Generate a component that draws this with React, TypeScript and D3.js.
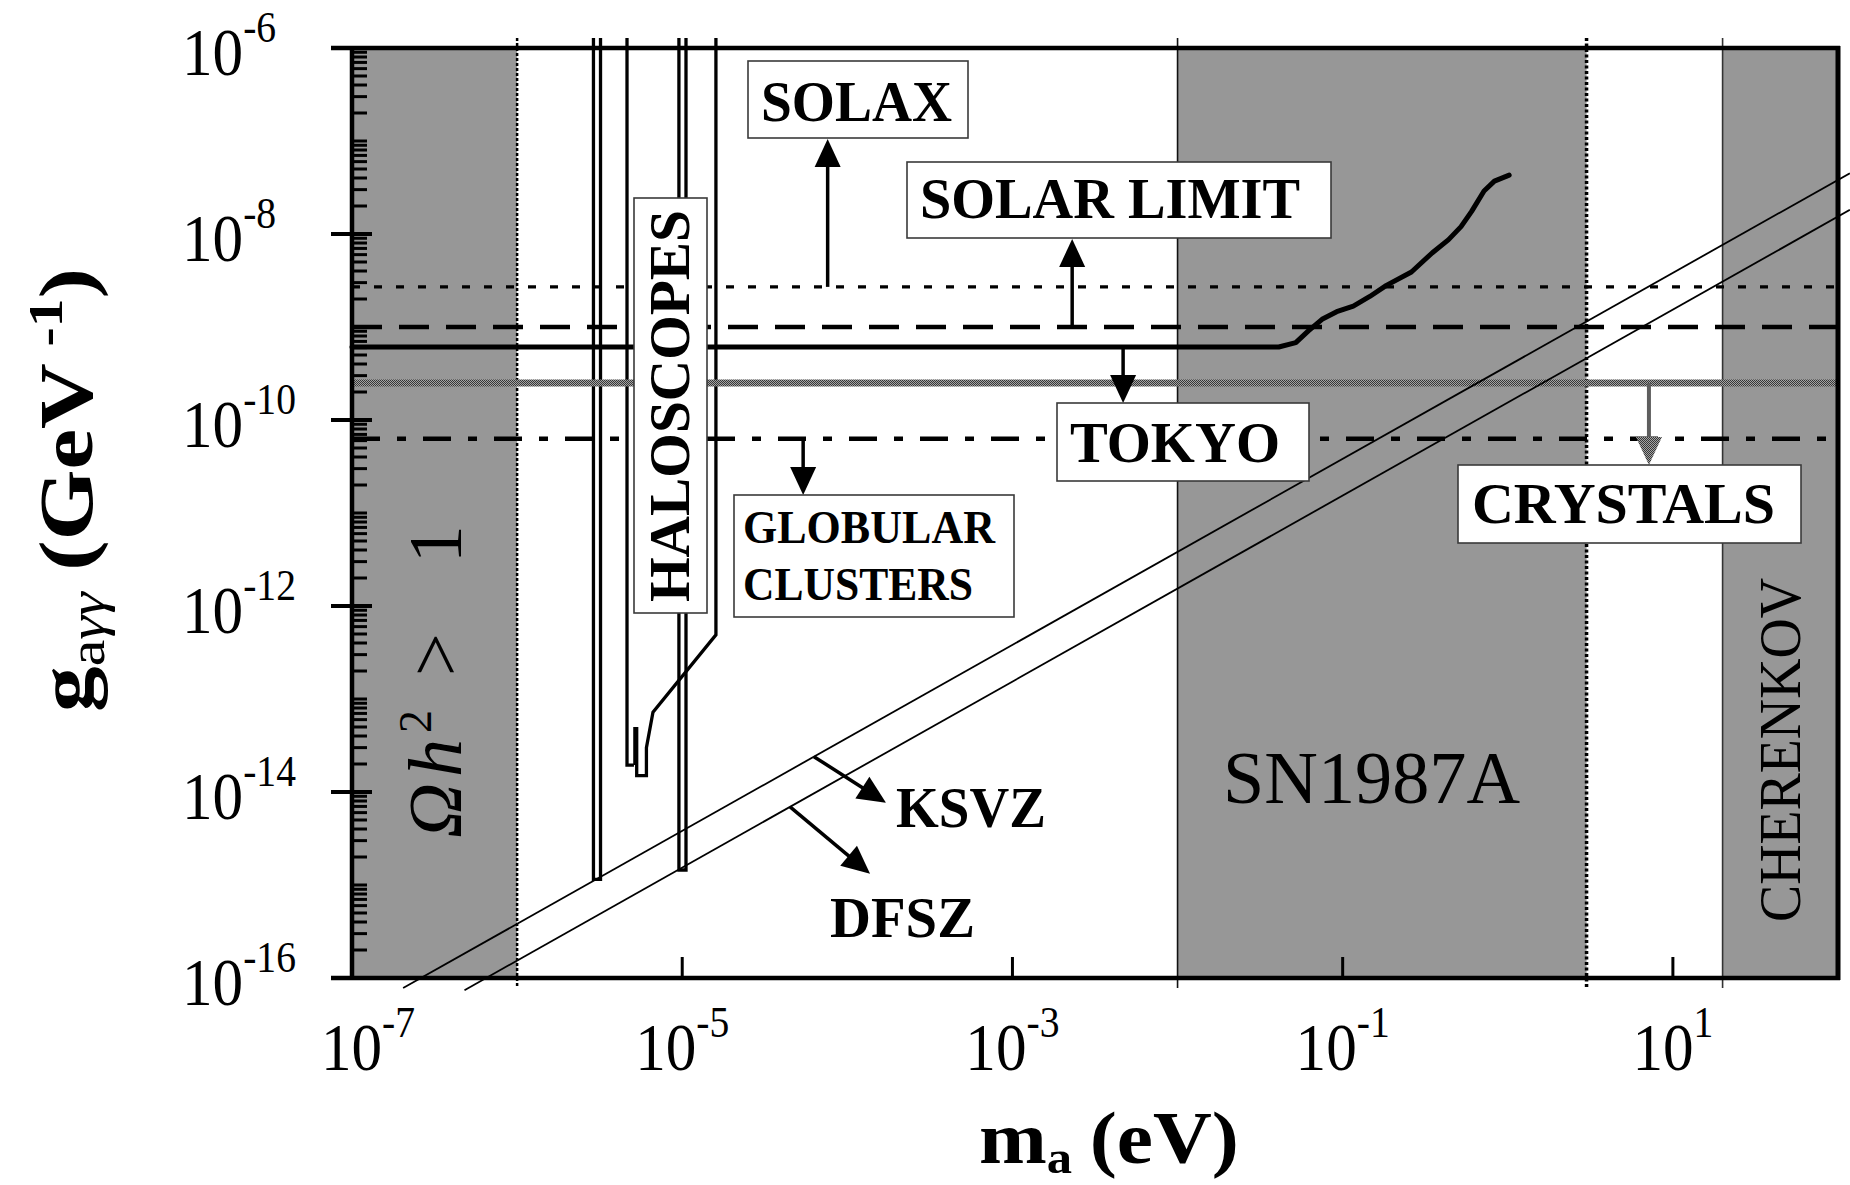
import React from "react";
import * as d3 from "d3";

// ---------------- data ----------------
const massDomain: [number, number] = [1e-7, 1e2];
const couplingDomain: [number, number] = [1e-16, 1e-6];

const xTickValues = [1e-7, 1e-5, 1e-3, 1e-1, 1e1];
const xTickExponents = ["-7", "-5", "-3", "-1", "1"];
const yTickValues = [1e-6, 1e-8, 1e-10, 1e-12, 1e-14, 1e-16];
const yTickExponents = ["-6", "-8", "-10", "-12", "-14", "-16"];

// excluded mass bands [m_min, m_max] in eV
const bandOmega = [1e-7, 1e-6];
const bandSN1987A = [1e-2, 3];
const bandCherenkov = [20, 1e2];

// horizontal limits (GeV^-1)
const gSolax = 2.7e-9;
const gSolarLimit = 1.0e-9;
const gCrystals = 2.5e-10;
const gGlobular = 6.3e-11;

// Tokyo helioscope limit
const tokyoMass = [1e-7, 0.041, 0.052, 0.062, 0.075, 0.092, 0.116, 0.146, 0.184, 0.261, 0.348, 0.438, 0.521, 0.604, 0.718, 0.83, 1.02];
const tokyoG = [6.1e-10, 6.1e-10, 6.8e-10, 9.1e-10, 1.21e-9, 1.46e-9, 1.68e-9, 2.13e-9, 2.8e-9, 3.9e-9, 6.25e-9, 8.7e-9, 1.2e-8, 1.75e-8, 2.9e-8, 3.7e-8, 4.3e-8];

// axion model lines g = coef * m
const ksvzCoef = 3.82e-10;
const dfszCoef = 1.54e-10;
const ksvzMass = [2.04e-7, 118];
const dfszMass = [4.8e-7, 118];

// haloscope exclusion outlines
const haloTopG = 1.28e-6;
const haloRectAMass = [2.9e-6, 3.2e-6];
const haloRectAMinG = 1.15e-15;
const haloRectCMass = [9.55e-6, 1.054e-5];
const haloRectCMinG = 1.45e-15;
const haloLeftMass = [4.63e-6, 4.63e-6, 5.1e-6];
const haloLeftG = [1.28e-6, 1.95e-14, 1.95e-14];
const haloTabMass = [5.05e-6, 5.3e-6];
const haloTabG = [1.95e-14, 5e-14];
const haloRightMass = [5.3e-6, 5.3e-6, 6.07e-6, 6.07e-6, 6.65e-6, 1.6e-5, 1.6e-5];
const haloRightG = [5e-14, 1.5e-14, 1.5e-14, 3e-14, 7.2e-14, 4.9e-13, 1.28e-6];

// annotation anchor masses
const solaxArrowM = 7.6e-5;
const solarArrowM = 2.3e-3;
const tokyoArrowM = 4.68e-3;
const globularArrowM = 5.4e-5;
const crystalsArrowM = 7.16;
const ksvzArrowM = 6.28e-5;
const dfszArrowM = 4.5e-5;

// ---------------- drawing ----------------
const FONT = "'Liberation Serif', 'Times New Roman', serif";
const GRAY = "#979797";

function Arrow({ x1, y1, x2, y2, color = "#000", width = 3.5, head = 28, half = 13, fill }: any) {
  const dx = x2 - x1, dy = y2 - y1;
  const L = Math.sqrt(dx * dx + dy * dy);
  const ux = dx / L, uy = dy / L;
  const bx = x2 - ux * head, by = y2 - uy * head;
  const px = -uy, py = ux;
  const pts = [
    [x2, y2],
    [bx + px * half, by + py * half],
    [bx - px * half, by - py * half],
  ];
  return (
    <g>
      <line x1={x1} y1={y1} x2={bx + ux * 2} y2={by + uy * 2} stroke={color} strokeWidth={width} />
      <polygon points={pts.map((p) => p.join(",")).join(" ")} fill={fill || color} />
    </g>
  );
}

function LabelBox({ x0, y0, x1, y1 }: any) {
  return <rect x={x0} y={y0} width={x1 - x0} height={y1 - y0} fill="#fff" stroke="#3a3a3a" strokeWidth={1.6} />;
}

export default function App() {
  const W = 1850, H = 1185;
  const x = d3.scaleLog().domain(massDomain).range([352, 1838]);
  const y = d3.scaleLog().domain(couplingDomain).range([978, 48]);
  const left = x(massDomain[0]);
  const right = x(massDomain[1]);
  const top = y(couplingDomain[1]);
  const bottom = y(couplingDomain[0]);

  const line = d3
    .line<number[]>()
    .x((d) => x(d[0]))
    .y((d) => y(d[1]));
  const zip = (ms: number[], gs: number[]) => ms.map((m, i) => [m, gs[i]]);

  const rectPath = (ms: number[], gmin: number) =>
    line([
      [ms[0], haloTopG],
      [ms[0], gmin],
      [ms[1], gmin],
      [ms[1], haloTopG],
    ]) || "";

  // minor ticks
  const minor: number[] = [];
  for (let e = -16; e < -6; e++) {
    for (let k = 1; k <= 9; k++) {
      if (k === 1 && e % 2 === 0) continue;
      minor.push(k * Math.pow(10, e));
    }
  }

  const ext = 10; // extension of band edges beyond frame
  const ksvzPts = ksvzMass.map((m) => [m, ksvzCoef * m]);
  const dfszPts = dfszMass.map((m) => [m, dfszCoef * m]);

  const yS = y(gSolax), yD = y(gSolarLimit), yT = y(tokyoG[0]), yC = y(gCrystals), yG = y(gGlobular);

  return (
    <div style={{ position: "absolute", left: 0, top: 0 }}>
      <svg width={W} height={H} viewBox={`0 0 ${W} ${H}`} style={{ display: "block", background: "#fff" }} fontFamily={FONT}>
        <defs>
          <pattern id="checker" width="2" height="2" patternUnits="userSpaceOnUse">
            <rect width="2" height="2" fill="#a4a4a4" />
            <rect width="1" height="1" fill="#383838" />
            <rect x="1" y="1" width="1" height="1" fill="#383838" />
          </pattern>
        </defs>

        {/* bands */}
        {[bandOmega, bandSN1987A, bandCherenkov].map((b, i) => (
          <rect key={i} x={x(b[0])} y={top} width={x(b[1]) - x(b[0])} height={bottom - top} fill={GRAY} />
        ))}
        {/* band edges */}
        <line x1={x(bandOmega[1])} x2={x(bandOmega[1])} y1={top - ext} y2={bottom + ext} stroke="#000" strokeWidth={2.5} strokeDasharray="3 2" />
        <line x1={x(bandSN1987A[0])} x2={x(bandSN1987A[0])} y1={top - ext} y2={bottom + ext} stroke="#111" strokeWidth={1.6} />
        <line x1={x(bandSN1987A[1])} x2={x(bandSN1987A[1])} y1={top - ext} y2={bottom + ext} stroke="#000" strokeWidth={3.5} strokeDasharray="3 2.5" />
        <line x1={x(bandCherenkov[0])} x2={x(bandCherenkov[0])} y1={top - ext} y2={bottom + ext} stroke="#333" strokeWidth={1.6} />

        {/* haloscopes */}
        <g fill="none" stroke="#000" strokeWidth={3.3}>
          <path d={rectPath(haloRectAMass, haloRectAMinG)} />
          <path d={rectPath(haloRectCMass, haloRectCMinG)} />
          <path d={line(zip(haloLeftMass, haloLeftG)) || ""} />
          <path d={line(zip(haloRightMass, haloRightG)) || ""} />
        </g>
        <rect
          x={x(haloTabMass[0])}
          y={y(haloTabG[1])}
          width={x(haloTabMass[1]) - x(haloTabMass[0])}
          height={y(haloTabG[0]) - y(haloTabG[1])}
          fill="#000"
        />

        {/* horizontal limits */}
        <line x1={left} x2={right} y1={yS} y2={yS} stroke="#000" strokeWidth={3.2} strokeDasharray="8 14" />
        <line x1={left} x2={right} y1={yD} y2={yD} stroke="#000" strokeWidth={4.5} strokeDasharray="30 17" />
        <line x1={left} x2={right} y1={yG} y2={yG} stroke="#000" strokeWidth={4.5} strokeDasharray="28 17 9 17" />
        <path d={line(zip(tokyoMass, tokyoG)) || ""} fill="none" stroke="#000" strokeWidth={5} strokeLinejoin="round" strokeLinecap="round" />
        <rect x={left} y={yC - 3.5} width={right - left} height={7} fill="url(#checker)" />

        {/* KSVZ / DFSZ */}
        <path d={line(ksvzPts) || ""} fill="none" stroke="#000" strokeWidth={1.8} />
        <path d={line(dfszPts) || ""} fill="none" stroke="#000" strokeWidth={1.8} />

        {/* frame */}
        <g stroke="#000" strokeLinecap="butt">
          <line x1={left - 21} x2={right + 2} y1={top} y2={top} strokeWidth={4.5} />
          <line x1={left - 21} x2={right + 2} y1={bottom} y2={bottom} strokeWidth={4.5} />
          <line x1={left} x2={left} y1={top - 2} y2={bottom + 2} strokeWidth={4.5} />
          <line x1={right} x2={right} y1={top - 2} y2={bottom + 2} strokeWidth={5} />
          {yTickValues.map((v, i) => (
            <line key={"M" + i} x1={left - 21} x2={left + 20} y1={y(v)} y2={y(v)} strokeWidth={4} />
          ))}
          {minor.map((v, i) => (
            <line key={"m" + i} x1={left} x2={left + 15} y1={y(v)} y2={y(v)} strokeWidth={3} />
          ))}
          {xTickValues.slice(1).map((v, i) => (
            <line key={"x" + i} x1={x(v)} x2={x(v)} y1={bottom} y2={bottom - 21} strokeWidth={3} />
          ))}
        </g>

        {/* tick labels */}
        {yTickValues.map((v, i) => (
          <text key={"yl" + i} transform={`translate(182, ${y(v) + 27}) scale(0.9, 1)`} fontSize={68} fill="#000">
            10
            <tspan dy={-33} fontSize={44}>
              {yTickExponents[i]}
            </tspan>
          </text>
        ))}
        {xTickValues.map((v, i) => (
          <text
            key={"xl" + i}
            transform={`translate(${x(v) + (i === 0 ? 16 : 0)}, 1070) scale(0.9, 1)`}
            fontSize={68}
            textAnchor="middle"
            fill="#000"
          >
            10
            <tspan dy={-33} fontSize={44}>
              {xTickExponents[i]}
            </tspan>
          </text>
        ))}

        {/* axis titles */}
        <text transform="translate(979, 1163) scale(1.1, 1)" fontSize={74} fontWeight="bold">
          m
          <tspan dy={10} fontSize={46}>
            a
          </tspan>
          <tspan dy={-10} dx={16}>
            (eV)
          </tspan>
        </text>
        <text transform="translate(92, 490) rotate(-90) scale(1.2, 1)" fontSize={76} fontWeight="bold" textAnchor="middle">
          g
          <tspan dy={12} fontSize={50} fontWeight="normal">
            a
          </tspan>
          <tspan fontSize={50} fontWeight="normal" fontStyle="italic">
            γγ
          </tspan>
          <tspan dy={-12} dx={18}>
            (GeV
          </tspan>
          <tspan dy={-30} dx={14} fontSize={48}>
            -1
          </tspan>
          <tspan dy={30}>)</tspan>
        </text>

        {/* band labels */}
        <text transform="translate(461, 838) rotate(-90)" fontSize={76} fill="#000">
          <tspan fontStyle="italic">Ω</tspan>
          <tspan fontStyle="italic" dx={6}>
            h
          </tspan>
          <tspan dy={-30} dx={6} fontSize={46}>
            2
          </tspan>
          <tspan dy={30} dx={34}>
            {">"}
          </tspan>
          <tspan dx={70}>1</tspan>
        </text>
        <text x={1223} y={803} fontSize={74} textLength={297} lengthAdjust="spacingAndGlyphs">
          SN1987A
        </text>
        <text transform="translate(1800, 750) rotate(-90)" fontSize={60} textAnchor="middle" textLength={344} lengthAdjust="spacingAndGlyphs">
          CHERENKOV
        </text>

        {/* model lines labels + arrows */}
        <Arrow x1={x(ksvzArrowM)} y1={y(ksvzCoef * ksvzArrowM)} x2={x(ksvzArrowM) + 72} y2={y(ksvzCoef * ksvzArrowM) + 46} />
        <Arrow x1={x(dfszArrowM)} y1={y(dfszCoef * dfszArrowM)} x2={x(dfszArrowM) + 80} y2={y(dfszCoef * dfszArrowM) + 67} />
        <text x={896} y={827} fontSize={58} fontWeight="bold" textLength={150} lengthAdjust="spacingAndGlyphs">
          KSVZ
        </text>
        <text x={830} y={937} fontSize={58} fontWeight="bold" textLength={145} lengthAdjust="spacingAndGlyphs">
          DFSZ
        </text>

        {/* limit arrows */}
        <Arrow x1={x(solaxArrowM)} y1={yS} x2={x(solaxArrowM)} y2={139} />
        <Arrow x1={x(solarArrowM)} y1={yD} x2={x(solarArrowM)} y2={239} />
        <Arrow x1={x(tokyoArrowM)} y1={yT} x2={x(tokyoArrowM)} y2={403} />
        <Arrow x1={x(globularArrowM)} y1={yG} x2={x(globularArrowM)} y2={495} />
        <Arrow x1={x(crystalsArrowM)} y1={yC} x2={x(crystalsArrowM)} y2={465} color="#5e5e5e" width={4} fill="url(#checker)" />

        {/* boxes */}
        <LabelBox x0={748} y0={61} x1={968} y1={138} />
        <text x={761} y={121} fontSize={58} fontWeight="bold" textLength={191} lengthAdjust="spacingAndGlyphs">
          SOLAX
        </text>
        <LabelBox x0={907} y0={162} x1={1331} y1={238} />
        <text x={920} y={218} fontSize={58} fontWeight="bold" textLength={380} lengthAdjust="spacingAndGlyphs">
          SOLAR LIMIT
        </text>
        <LabelBox x0={1057} y0={403} x1={1309} y1={481} />
        <text x={1070} y={462} fontSize={58} fontWeight="bold" textLength={210} lengthAdjust="spacingAndGlyphs">
          TOKYO
        </text>
        <LabelBox x0={734} y0={495} x1={1014} y1={617} />
        <text x={743} y={543} fontSize={47} fontWeight="bold" textLength={252} lengthAdjust="spacingAndGlyphs">
          GLOBULAR
        </text>
        <text x={743} y={600} fontSize={47} fontWeight="bold" textLength={230} lengthAdjust="spacingAndGlyphs">
          CLUSTERS
        </text>
        <LabelBox x0={1458} y0={465} x1={1801} y1={543} />
        <text x={1472} y={523} fontSize={58} fontWeight="bold" textLength={303} lengthAdjust="spacingAndGlyphs">
          CRYSTALS
        </text>
        <LabelBox x0={634} y0={198} x1={707} y1={613} />
        <text transform="translate(689, 406) rotate(-90)" fontSize={57} fontWeight="bold" textAnchor="middle" textLength={392} lengthAdjust="spacingAndGlyphs">
          HALOSCOPES
        </text>
      </svg>
    </div>
  );
}
